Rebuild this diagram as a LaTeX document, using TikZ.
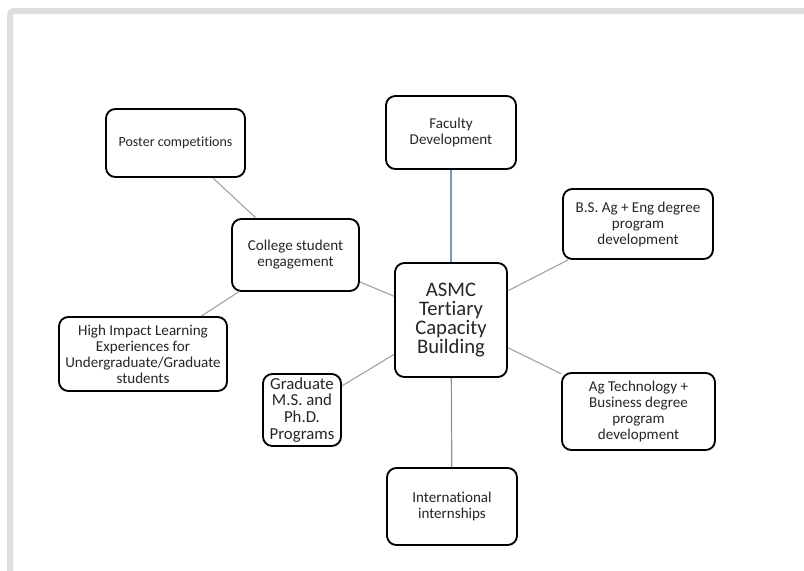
\documentclass[tikz,border=0pt]{standalone}
\usepackage{fontspec}
\setmainfont{Carlito}[Ligatures=NoCommon]
\definecolor{linkblue}{RGB}{118,152,190}
\definecolor{linkgrey}{RGB}{160,160,160}
\definecolor{framegrey}{RGB}{222,222,222}
\begin{document}
\begin{tikzpicture}[x=0.75pt,y=-0.75pt,
  box/.style={draw=black, line width=1.4pt, rounded corners=7pt, fill=white,
    align=center, inner sep=1pt, text=black!85,
    font=\fontsize{11.3}{12}\selectfont},
  hub/.style={box, font=\fontsize{15.5}{14.4}\selectfont},
  greylink/.style={draw=linkgrey, line width=0.8pt},
  bluelink/.style={draw=linkblue, line width=0.9pt}]
% canvas and frame
\useasboundingbox (0,0) rectangle (804,571);
\fill[white] (0,0) rectangle (804,571);
\begin{scope}
  \clip (0,0) rectangle (804,571);
  \draw[framegrey, line width=4.5pt, rounded corners=3pt] (10,580) -- (10,11) -- (815,11);
\end{scope}
% boxes
\node[hub, minimum width=84pt, minimum height=85.5pt] (asmc) at (451,320)
  {ASMC\\Tertiary\\Capacity\\Building};
\node[box, minimum width=97.5pt, minimum height=54.75pt] (fac) at (451,132.5)
  {Faculty\\Development};
\node[box, minimum width=104.25pt, minimum height=51pt,
  font=\fontsize{10.5}{12}\selectfont] (poster) at (175.5,143)
  {Poster competitions};
\node[box, minimum width=95.25pt, minimum height=54pt] (college) at (295.5,255)
  {College student\\engagement};
\node[box, minimum width=126pt, minimum height=55.5pt] (hile) at (143,354)
  {High Impact Learning\\Experiences for\\Undergraduate/Graduate\\students};
\node[box, minimum width=58.5pt, minimum height=54pt,
  font=\fontsize{12.6}{12.6}\selectfont] (grad) at (302,410)
  {Graduate\\M.S. and\\Ph.D.\\Programs};
\node[box, minimum width=112.5pt, minimum height=52.5pt] (bsag) at (638,224)
  {B.S. Ag + Eng degree\\program\\development};
\node[box, minimum width=114.75pt, minimum height=57.75pt] (agtech) at (638.5,411.5)
  {Ag Technology +\\Business degree\\program\\development};
\node[box, minimum width=97.5pt, minimum height=57.75pt] (intern) at (452,506.5)
  {International\\internships};
% connectors
\draw[bluelink] (fac) -- (asmc);
\draw[bluelink] (asmc) -- (intern);
\draw[greylink] (poster) -- (college);
\draw[greylink] (college) -- (asmc);
\draw[greylink] (college) -- (hile);
\draw[greylink] (asmc) -- (bsag);
\draw[greylink] (asmc) -- (grad);
\draw[greylink] (asmc) -- (agtech);
\end{tikzpicture}
\end{document}
